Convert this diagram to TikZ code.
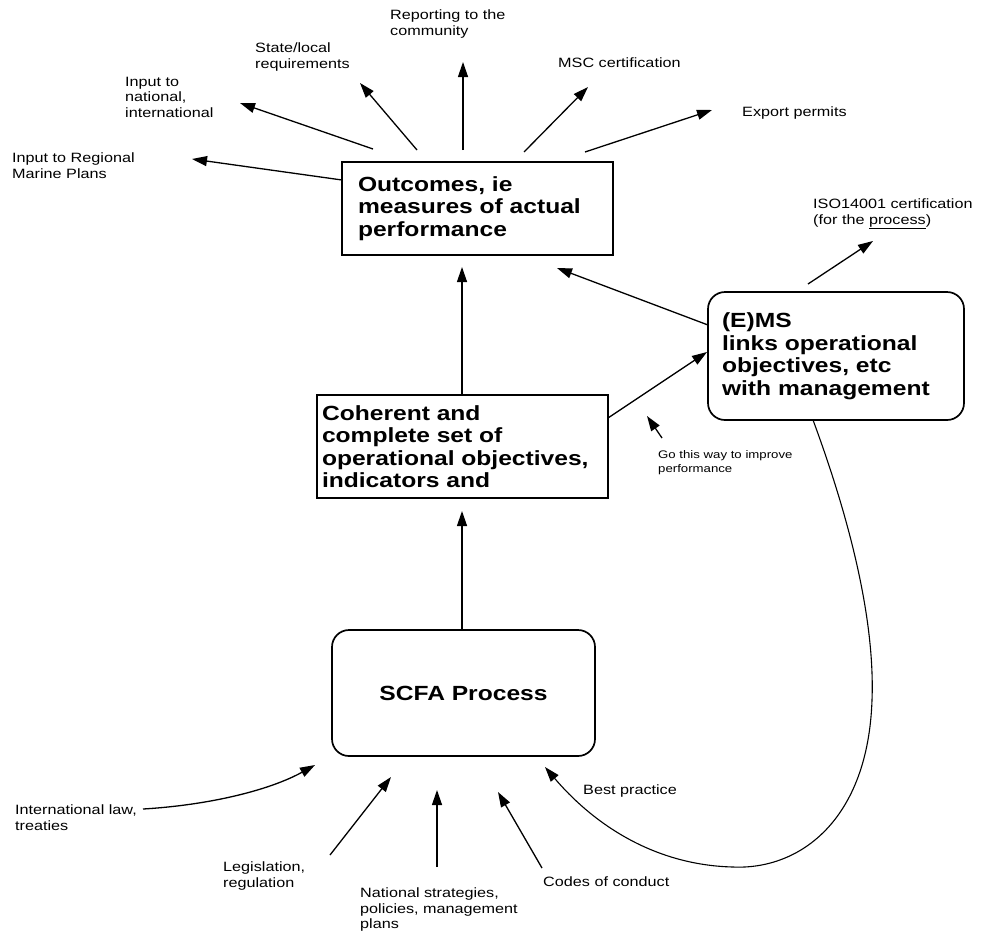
\documentclass[tikz,border=0pt]{standalone}
\usepackage{fontspec}
\setmainfont[FakeStretch=1.2]{Liberation Sans}
\usetikzlibrary{arrows.meta}
\begin{document}
\begin{tikzpicture}[x=1pt,y=-1pt,
  arr/.style={line width=1.3pt,-{Triangle[length=15pt,width=10pt]}},
  lbl/.style={font=\fontsize{13.5}{15.5}\selectfont, align=left, anchor=north west, inner sep=0pt},
  tiny/.style={font=\fontsize{11}{14}\selectfont, align=left, anchor=north west, inner sep=0pt},
  bigtxt/.style={font=\fontsize{20.5}{22.5}\selectfont\bfseries},
  sqbox/.style={draw, line width=1.7pt, bigtxt, align=left, inner sep=0pt},
  rbox/.style={sqbox, rounded corners=17pt}]
\useasboundingbox (0,0) rectangle (984,932);
\fill[white] (0,0) rectangle (984,932);

% boxes
\node[sqbox, minimum width=271pt, minimum height=93pt, text width=239pt] (out) at (477.5,208.5)
  {Outcomes, ie\\measures of actual\\performance};
\node[sqbox, minimum width=291pt, minimum height=103pt, text width=281pt] (coh) at (462.5,446.5)
  {Coherent and\\complete set of\\operational objectives,\\indicators and};
\node[rbox, minimum width=256pt, minimum height=128pt, text width=228pt] (ems) at (836,356)
  {(E)MS\\links operational\\objectives, etc\\with management};
\node[rbox, minimum width=263pt, minimum height=126pt, align=center] (scfa) at (463.5,693)
  {SCFA Process};

% labels
\node[lbl] (lrep) at (390,10) {Reporting to the\\community};
\node[lbl] (lstate) at (255,43) {State/local\\requirements};
\node[lbl] (lnat) at (125,77) {Input to\\national,\\international};
\node[lbl] (lreg) at (12,153) {Input to Regional\\Marine Plans};
\node[lbl] (lmsc) at (558,58) {MSC certification};
\node[lbl] (lexp) at (742,107) {Export permits};
\node[lbl] (liso) at (813,199) {ISO14001 certification\\(for the \underline{process})};
\node[tiny] (lgo) at (658,450) {Go this way to improve\\performance};
\node[lbl] (lint) at (15,805) {International law,\\treaties};
\node[lbl] (lleg) at (223,862) {Legislation,\\regulation};
\node[lbl] (lnats) at (360,888) {National strategies,\\policies, management\\plans};
\node[lbl] (lcod) at (543,877) {Codes of conduct};
\node[lbl] (lbest) at (583,785) {Best practice};

% connector end points
\coordinate (t1) at (342,180); \coordinate (h1) at (192,159);
\coordinate (t2) at (373,149); \coordinate (h2) at (240,103);
\coordinate (t3) at (417,150); \coordinate (h3) at (360,83);
\coordinate (t4) at (463,150); \coordinate (h4) at (463,62);
\coordinate (t5) at (524,152); \coordinate (h5) at (588,87);
\coordinate (t6) at (585,152); \coordinate (h6) at (712,110);
\coordinate (cohtop) at (462,395); \coordinate (outin) at (462,267);
\coordinate (scfatop) at (462,630); \coordinate (cohin) at (462,511);
\coordinate (emsl) at (708,325); \coordinate (outin2) at (557,268);
\coordinate (cohr) at (608,418); \coordinate (emsin) at (707,352);
\coordinate (emst) at (808,284); \coordinate (isoin) at (873,241);
\coordinate (got) at (662,438); \coordinate (goh) at (647,416);
\coordinate (emsb) at (813,420); \coordinate (bpin) at (545,767);
\coordinate (intt) at (143,809); \coordinate (inth) at (315,765);
\coordinate (legt) at (330,855); \coordinate (legh) at (391,777);
\coordinate (natt) at (437,867); \coordinate (nath) at (437,790);
\coordinate (codt) at (542,868); \coordinate (codh) at (498,792);

% arrows
\draw[arr] (t1) -- (h1);
\draw[arr] (t2) -- (h2);
\draw[arr] (t3) -- (h3);
\draw[arr] (t4) -- (h4);
\draw[arr] (t5) -- (h5);
\draw[arr] (t6) -- (h6);
\draw[arr] (cohtop) -- (outin);
\draw[arr] (scfatop) -- (cohin);
\draw[arr] (emsl) -- (outin2);
\draw[arr] (cohr) -- (emsin);
\draw[arr] (emst) -- (isoin);
\draw[arr] (got) -- (goh);
\draw[arr, line width=1.1pt] (emsb) .. controls (850,520) and (875,620) .. (872,700)
  .. controls (868,820) and (800,870) .. (733,867)
  .. controls (650,865) and (590,820) .. (bpin);
\draw[arr] (intt) .. controls (210,805) and (270,790) .. (inth);
\draw[arr] (legt) -- (legh);
\draw[arr] (natt) -- (nath);
\draw[arr] (codt) -- (codh);
\end{tikzpicture}
\end{document}
